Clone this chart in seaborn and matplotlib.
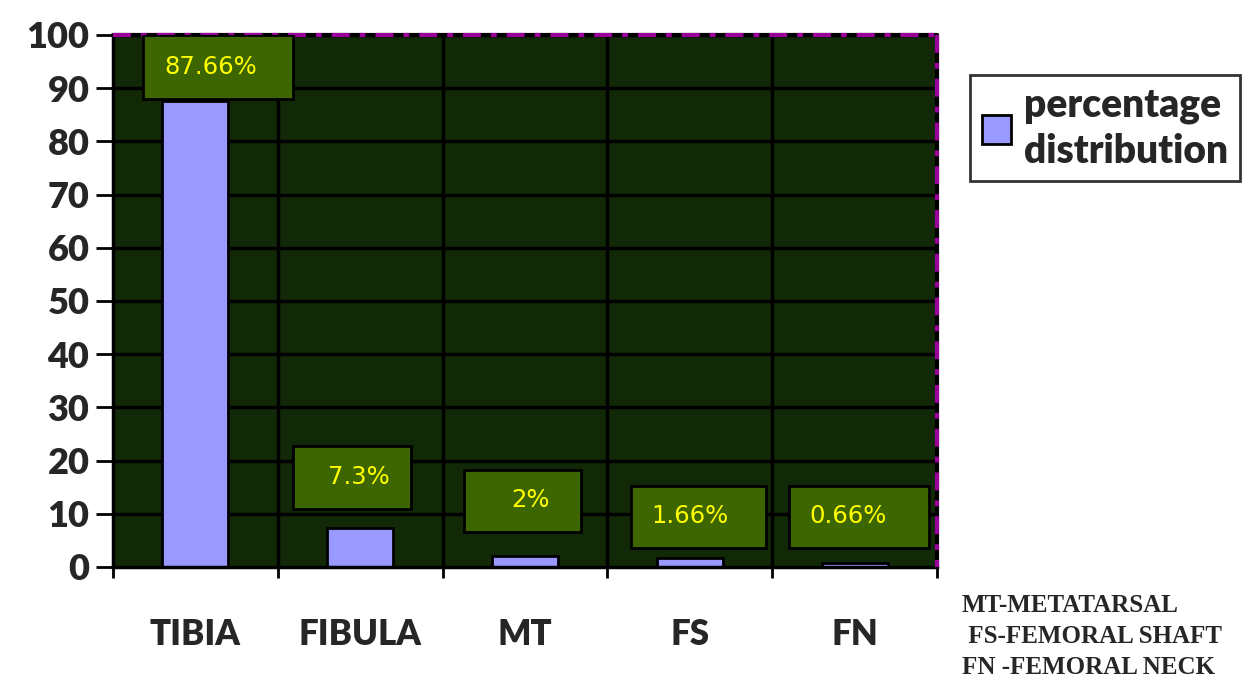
import matplotlib
matplotlib.use("Agg")
import matplotlib.pyplot as plt
import seaborn as sns
import pandas as pd
from matplotlib.patches import Rectangle

# ── DATA ─────────────────────────────────────────────────────
categories = ["TIBIA", "FIBULA", "MT", "FS", "FN"]
values = [87.66, 7.3, 2.0, 1.66, 0.66]
value_labels = ["87.66%", "7.3%", "2%", "1.66%", "0.66%"]
series_name = "percentage\ndistribution"
footnotes = ["MT-METATARSAL", " FS-FEMORAL SHAFT", "FN -FEMORAL NECK"]
y_ticks = list(range(0, 101, 10))

# ── STYLE / LAYOUT ───────────────────────────────────────────
BG = "#122908"
BAR = "#9999ff"
BOX = "#3d6600"
TXT = "#ffff00"
PURPLE = "#990099"

# label boxes (x0, x1, y0, y1) in data units, text centre (x, y)
box_pos = [(-0.32, 0.59, 88.0, 100.0), (0.59, 1.31, 10.9, 22.7),
           (1.63, 2.34, 6.6, 18.2), (2.64, 3.46, 3.6, 15.2),
           (3.60, 4.45, 3.6, 15.2)]
txt_pos = [(0.09, 94.0), (0.99, 17.0), (2.03, 12.6), (3.00, 9.6), (3.96, 9.6)]

sns.set_style("white")
plt.rcParams["font.family"] = ["Lato", "DejaVu Sans"]

df = pd.DataFrame({"cat": categories, "val": values})

fig = plt.figure(figsize=(12.59, 6.98), dpi=100)
ax = fig.add_axes([0.0898, 0.1877, 0.6545, 0.7622])
ax.set_facecolor(BG)

sns.barplot(data=df, x="cat", y="val", color=BAR, width=0.4,
            edgecolor="black", linewidth=2, saturation=1,
            label=series_name, ax=ax, zorder=3)

ax.set_xlim(-0.5, len(categories) - 0.5)
ax.set_ylim(0, 100)
ax.set_yticks(y_ticks)
ax.set_yticklabels([str(t) for t in y_ticks], fontsize=26, fontweight="heavy")
ax.set_xlabel("")
ax.set_ylabel("")

# category names centred, tick marks on boundaries
ax.set_xticks(range(len(categories)))
ax.set_xticklabels(categories, fontsize=25, fontweight="heavy")
ax.tick_params(axis="x", which="major", length=0, pad=37)
ax.set_xticks([i - 0.5 for i in range(len(categories) + 1)], minor=True)
ax.tick_params(axis="x", which="minor", length=8, width=2, color="black",
               bottom=True)
ax.tick_params(axis="y", length=12, width=2, color="black", left=True, pad=5)

# grid lines
for t in y_ticks[1:]:
    ax.axhline(t, color="black", lw=2.5, zorder=1)
for i in range(1, len(categories)):
    ax.axvline(i - 0.5, color="black", lw=2.5, zorder=1)

# spines
for s in ["left", "bottom"]:
    ax.spines[s].set_color("black")
    ax.spines[s].set_linewidth(2.5)
    ax.spines[s].set_zorder(5)
for s in ["top", "right"]:
    ax.spines[s].set_visible(False)
ax.plot([-0.5, 4.5], [100, 100], color="black", lw=3, clip_on=False, zorder=6)
ax.plot([4.5, 4.5], [0, 100], color="black", lw=3, clip_on=False, zorder=6)
ax.plot([-0.5, 4.5], [100, 100], color=PURPLE, lw=3, clip_on=False, zorder=7,
        dashes=(4.3, 2.4, 1.4, 2.4))
ax.plot([4.5, 4.5], [100, 0], color=PURPLE, lw=3, clip_on=False, zorder=7,
        dashes=(4.3, 2.4, 1.4, 2.4))

# data label boxes
for (x0, x1, y0, y1), (tx, ty), lab in zip(box_pos, txt_pos, value_labels):
    ax.add_patch(Rectangle((x0, y0), x1 - x0, y1 - y0, facecolor=BOX,
                           edgecolor="black", lw=2, zorder=8))
    ax.text(tx, ty, lab, color=TXT, fontsize=17.5, ha="center", va="center",
            family="DejaVu Sans", zorder=9)

# legend
leg = ax.legend(loc="upper left", bbox_to_anchor=(1.04, 0.925),
                prop={"weight": "heavy", "size": 28}, frameon=True,
                fancybox=False, edgecolor="black", handlelength=0.75,
                handleheight=0.75, handletextpad=0.35, borderpad=0.3,
                borderaxespad=0)
leg.get_frame().set_linewidth(2)
for t in leg.get_texts():
    t.set_linespacing(1.3)

# footnote
for i, line in enumerate(footnotes):
    fig.text(0.764, 0.133 - i * 0.045, line, fontsize=18, fontweight="bold",
             family="Liberation Serif", ha="left", va="center")

fig.savefig("out.png", dpi=100)
